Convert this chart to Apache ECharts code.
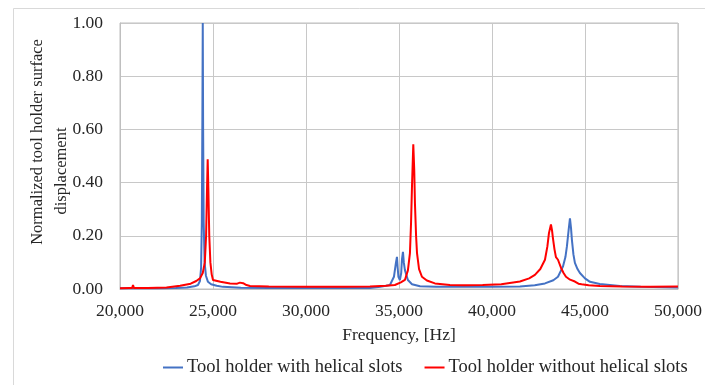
<!DOCTYPE html>
<html>
<head>
<meta charset="utf-8">
<script src="https://cdn.jsdelivr.net/npm/echarts@6/dist/echarts.min.js"></script>
<style>
  html, body { margin: 0; padding: 0; background: #ffffff; }
  #chart { width: 705px; height: 385px; }
</style>
</head>
<body>
<div id="chart"></div>
<script>
// Frequency response of the two tool holder variants (normalized displacement)
const seriesNames = ['Tool holder with helical slots', 'Tool holder without helical slots'];

const slottedFreq = [
  20000, 21000, 22000, 23000, 23600, 24000, 24190, 24300, 24360, 24400,
  24430, 24450, 24470, 24500, 24550, 24620, 24730, 24900, 25200, 25540,
  26500, 28000, 30000, 32000, 33440, 34000, 34515, 34730, 34836, 34892,
  34930, 34970, 35050, 35120, 35160, 35215, 35260, 35320, 35480, 35700,
  36130, 37000, 38500, 40000, 41505, 42300, 42850, 43300, 43550, 43815,
  43950, 44030, 44120, 44194, 44250, 44300, 44380, 44460, 44600, 44730,
  45000, 45270, 45800, 46880, 48000, 50000
];
const slottedDisp = [
  0.003, 0.003, 0.003, 0.004, 0.006, 0.010, 0.015, 0.030, 0.080, 0.250,
  0.650, 1.000, 0.600, 0.250, 0.100, 0.050, 0.027, 0.018, 0.012, 0.008,
  0.005, 0.004, 0.004, 0.004, 0.004, 0.008, 0.015, 0.046, 0.098, 0.121,
  0.080, 0.046, 0.034, 0.060, 0.110, 0.140, 0.100, 0.071, 0.034, 0.018,
  0.010, 0.008, 0.008, 0.008, 0.009, 0.014, 0.021, 0.033, 0.046, 0.084,
  0.120, 0.160, 0.220, 0.266, 0.230, 0.184, 0.130, 0.098, 0.075, 0.060,
  0.040, 0.027, 0.019, 0.011, 0.008, 0.006
];

const plainFreq = [
  20000, 20500, 20650, 20700, 20750, 21500, 22500, 23230, 23800, 24100,
  24300, 24450, 24560, 24630, 24680, 24715, 24750, 24800, 24860, 24930,
  25000, 25400, 25915, 26300, 26450, 26530, 26620, 26800, 26990, 28000,
  30000, 32000, 33440, 34300, 34780, 35100, 35320, 35480, 35590, 35650,
  35700, 35770, 35820, 35860, 35920, 35970, 36080, 36235, 36500, 36935,
  37740, 38500, 39500, 40500, 41505, 42000, 42310, 42600, 42850, 42980,
  43065, 43172, 43230, 43280, 43360, 43440, 43550, 43630, 43710, 43850,
  43980, 44200, 44460, 44650, 44730, 44820, 45200, 45800, 47000, 48500,
  50000
];
const plainDisp = [
  0.003, 0.004, 0.004, 0.015, 0.004, 0.004, 0.006, 0.012, 0.020, 0.030,
  0.040, 0.060, 0.100, 0.200, 0.380, 0.488, 0.380, 0.200, 0.100, 0.055,
  0.034, 0.027, 0.021, 0.020, 0.024, 0.027, 0.022, 0.015, 0.011, 0.009,
  0.008, 0.008, 0.009, 0.012, 0.015, 0.025, 0.034, 0.070, 0.135, 0.250,
  0.385, 0.544, 0.450, 0.320, 0.200, 0.135, 0.075, 0.046, 0.032, 0.021,
  0.015, 0.014, 0.015, 0.018, 0.028, 0.040, 0.053, 0.075, 0.110, 0.160,
  0.210, 0.243, 0.220, 0.190, 0.150, 0.120, 0.110, 0.095, 0.080, 0.060,
  0.046, 0.035, 0.028, 0.020, 0.022, 0.018, 0.014, 0.011, 0.009, 0.008,
  0.009
];

const xRange = [20000, 50000, 5000];
const yRange = [0, 1, 0.2];
const yTitleLines = ['Normalized tool holder surface', 'displacement'];

function pairs(xs, ys) {
  return xs.map((x, i) => [x, ys[i]]);
}

const FONT = '"Liberation Serif", "Times New Roman", serif';
const TEXT = '#262626';
const FS = 17.5;

const chart = echarts.init(document.getElementById('chart'), null, { renderer: 'canvas' });

chart.setOption({
  animation: false,
  backgroundColor: '#ffffff',
  textStyle: { fontFamily: FONT },
  grid: {
    left: 120, right: 27, top: 23, bottom: 96,
    show: true, borderColor: '#bfbfbf', borderWidth: 1
  },
  graphic: [
    {
      type: 'rect', silent: true, z: -1,
      shape: { x: 13.5, y: 8.5, width: 800, height: 500 },
      style: { fill: 'none', stroke: '#d9d9d9', lineWidth: 1 }
    },
    {
      type: 'text', x: 38, y: 142, rotation: Math.PI / 2,
      style: {
        text: yTitleLines[0], font: '16.5px ' + FONT, fill: TEXT,
        align: 'center', verticalAlign: 'middle'
      }
    },
    {
      type: 'text', x: 62, y: 171, rotation: Math.PI / 2,
      style: {
        text: yTitleLines[1], font: '16.5px ' + FONT, fill: TEXT,
        align: 'center', verticalAlign: 'middle'
      }
    }
  ],
  legend: {
    left: 163, top: 358, padding: 0,
    icon: 'rect', itemWidth: 20, itemHeight: 2, itemGap: 22,
    textStyle: { fontFamily: FONT, fontSize: 18.5, color: TEXT, padding: [0, 0, 0, -1] },
    data: seriesNames
  },
  xAxis: {
    type: 'value',
    min: xRange[0], max: xRange[1], interval: xRange[2],
    name: 'Frequency, [Hz]', nameLocation: 'middle', nameGap: 37,
    nameTextStyle: { fontFamily: FONT, fontSize: FS, color: TEXT },
    axisLine: { show: true, lineStyle: { color: '#bfbfbf' } },
    axisTick: { show: false },
    axisLabel: {
      margin: 13, fontFamily: FONT, fontSize: FS, color: TEXT,
      formatter: v => v.toLocaleString('en-US')
    },
    splitLine: { show: true, lineStyle: { color: '#c8c8c8', width: 1 } }
  },
  yAxis: {
    type: 'value',
    min: yRange[0], max: yRange[1], interval: yRange[2],
    axisLine: { show: true, lineStyle: { color: '#bfbfbf' } },
    axisTick: { show: false },
    axisLabel: {
      margin: 17, fontFamily: FONT, fontSize: FS, color: TEXT,
      formatter: v => v.toFixed(2)
    },
    splitLine: { show: true, lineStyle: { color: '#c8c8c8', width: 1 } }
  },
  series: [
    {
      name: seriesNames[0], type: 'line', showSymbol: false, symbol: 'none',
      data: pairs(slottedFreq, slottedDisp),
      lineStyle: { color: '#4472c4', width: 2 }, itemStyle: { color: '#4472c4' },
      z: 2
    },
    {
      name: seriesNames[1], type: 'line', showSymbol: false, symbol: 'none',
      data: pairs(plainFreq, plainDisp),
      lineStyle: { color: '#ff0000', width: 2 }, itemStyle: { color: '#ff0000' },
      z: 3
    }
  ]
});
</script>
</body>
</html>
